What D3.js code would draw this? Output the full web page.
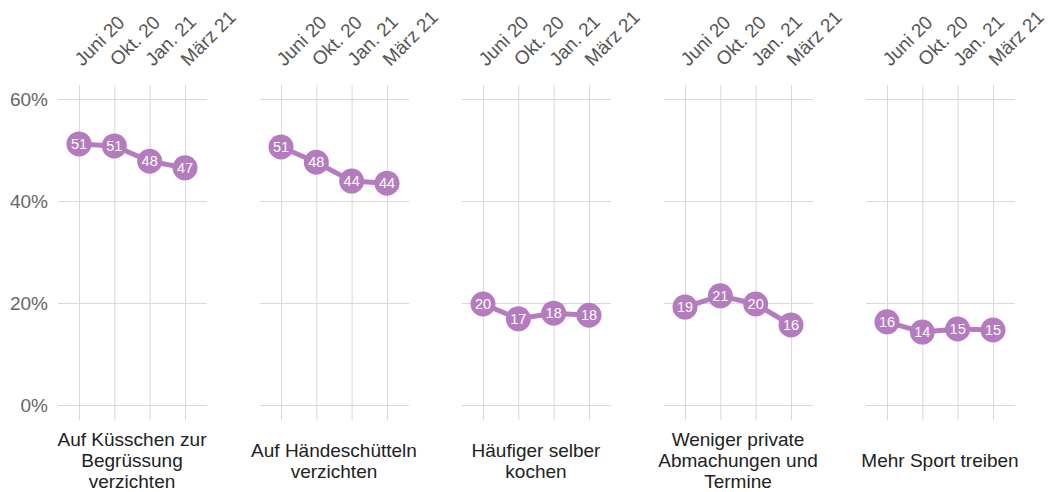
<!DOCTYPE html>
<html>
<head>
<meta charset="utf-8">
<script src="https://cdn.jsdelivr.net/npm/d3@7"></script>
<style>
  html, body { margin: 0; padding: 0; background: #fff; }
  svg { display: block; font-family: "Liberation Sans", Arial, Helvetica, sans-serif; }
  .domain { display: none; }
</style>
</head>
<body>
<svg id="chart" width="1050" height="492"></svg>
<script>
// Survey waves (x categories)
const waves = ["Juni 20", "Okt. 20", "Jan. 21", "März 21"];

// Behaviour items (one small multiple each)
const items = [
  ["Auf Küsschen zur", "Begrüssung", "verzichten"],
  ["Auf Händeschütteln", "verzichten"],
  ["Häufiger selber", "kochen"],
  ["Weniger private", "Abmachungen und", "Termine"],
  ["Mehr Sport treiben"]
];

// Share of respondents (%) per wave
const kuesschen   = [51.2, 50.8, 47.8, 46.5];
const haende      = [50.6, 47.6, 43.9, 43.5];
const kochen      = [19.8, 16.9, 18.0, 17.6];
const termine     = [19.2, 21.4, 19.8, 15.7];
const sport       = [16.3, 14.3, 14.9, 14.7];
const seriesList  = [kuesschen, haende, kochen, termine, sport];

// Y axis ticks
const yTicks = [0, 20, 40, 60];

const color = "#b57bbf";
const gridColor = "#d9d9d9";

const svg = d3.select("#chart");

const panelLeft = 58, panelStep = 202, panelWidth = 149;
const gridTop = 85, gridBottom = 420;

const y = d3.scaleLinear().domain([0, 60]).range([405, 99]);
const x = d3.scalePoint().domain(waves).range([21, 127]);

seriesList.forEach((values, i) => {
  const g = svg.append("g")
    .attr("transform", `translate(${panelLeft + panelStep * i},0)`);

  // horizontal gridlines (with tick labels on the first panel)
  const yAxis = d3.axisLeft(y)
    .tickValues(yTicks)
    .tickSize(-panelWidth)
    .tickPadding(10)
    .tickFormat(d => i === 0 ? d + "%" : "");
  const ya = g.append("g").call(yAxis);
  ya.selectAll(".tick line").attr("stroke", gridColor).attr("stroke-width", 1);
  ya.selectAll(".tick text")
    .attr("fill", "#666")
    .style("font-size", "19px");

  // vertical gridlines and rotated wave labels on top
  const xAxis = d3.axisTop(x).tickSize(0).tickPadding(0);
  const xa = g.append("g").attr("transform", `translate(0,${gridTop})`).call(xAxis);
  xa.selectAll(".tick line")
    .attr("y1", 0)
    .attr("y2", gridBottom - gridTop)
    .attr("stroke", gridColor)
    .attr("stroke-width", 1);
  xa.selectAll(".tick text")
    .attr("fill", "#555")
    .style("font-size", "19px")
    .attr("text-anchor", "start")
    .attr("dy", null)
    .attr("y", 0)
    .attr("transform", "translate(3,-18) rotate(-45)");

  const pts = waves.map((w, k) => ({ w, v: values[k] }));

  // connecting line
  g.append("path")
    .datum(pts)
    .attr("fill", "none")
    .attr("stroke", color)
    .attr("stroke-width", 5)
    .attr("stroke-linejoin", "round")
    .attr("d", d3.line().x(d => x(d.w)).y(d => y(d.v)));

  // dots with value labels
  const dot = g.selectAll(".dot").data(pts).join("g")
    .attr("class", "dot")
    .attr("transform", d => `translate(${x(d.w)},${y(d.v)})`);
  dot.append("circle").attr("r", 12.5).attr("fill", color);
  dot.append("text")
    .attr("text-anchor", "middle")
    .attr("dy", "0.36em")
    .attr("fill", "#fff")
    .style("font-size", "14.5px")
    .text(d => Math.round(d.v));

  // panel title under the grid, vertically centred
  const lines = items[i];
  const lh = 21, midY = 467;
  const t = g.append("text")
    .attr("text-anchor", "middle")
    .attr("fill", "#222")
    .style("font-size", "19px");
  lines.forEach((ln, k) => {
    t.append("tspan")
      .attr("x", panelWidth / 2 - 0.5)
      .attr("y", midY + (k - (lines.length - 1) / 2) * lh)
      .text(ln);
  });
});
</script>
</body>
</html>
